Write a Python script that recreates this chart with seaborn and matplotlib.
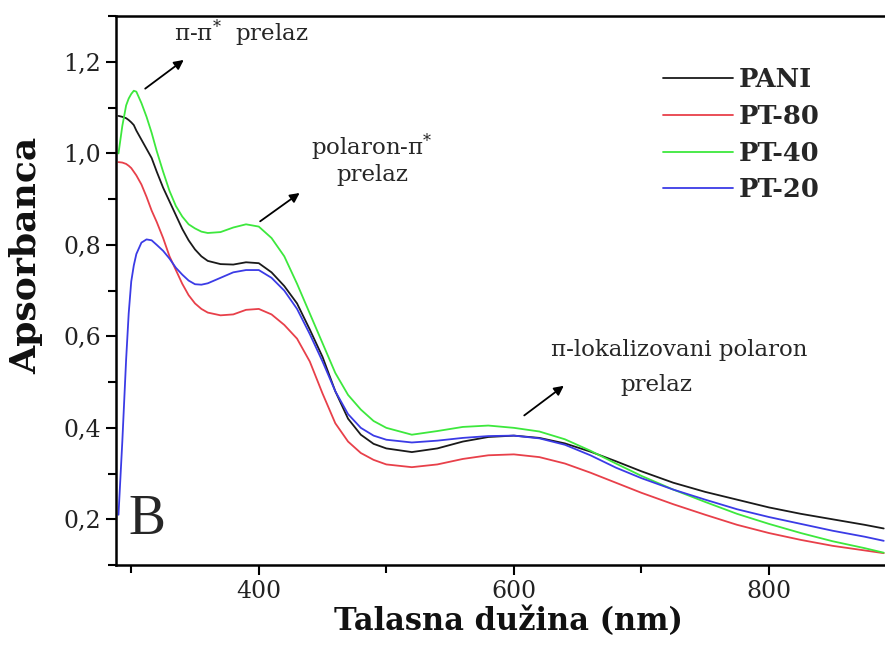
import numpy as np
import pandas as pd
import matplotlib
matplotlib.use('Agg')
import matplotlib.pyplot as plt
import seaborn as sns
from matplotlib.ticker import MultipleLocator, FuncFormatter

# wavelength grid (nm)
wavelength = [290, 293, 296, 298, 300, 302, 304, 308, 312, 316, 320, 325, 330, 335, 340,
              345, 350, 355, 360, 370, 380, 390, 400, 410, 420, 430, 440, 450, 460, 470,
              480, 490, 500, 520, 540, 560, 580, 600, 620, 640, 660, 680, 700, 725, 750,
              775, 800, 825, 850, 875, 890]

pani = [1.082, 1.080, 1.077, 1.073, 1.068, 1.062, 1.050, 1.030, 1.010, 0.990, 0.960, 0.925,
        0.895, 0.865, 0.835, 0.810, 0.790, 0.775, 0.765,
        0.758, 0.757, 0.762, 0.760, 0.740, 0.710, 0.672, 0.615, 0.555, 0.480, 0.420,
        0.385, 0.365, 0.355, 0.347, 0.355, 0.370, 0.380, 0.383, 0.378, 0.366, 0.348, 0.327,
        0.305, 0.280, 0.260, 0.243, 0.226, 0.212, 0.200, 0.188, 0.180]

pt80 = [0.981, 0.980, 0.977, 0.973, 0.968, 0.960, 0.952, 0.932, 0.905, 0.875, 0.850, 0.815,
        0.775, 0.745, 0.715, 0.690, 0.672, 0.660, 0.652,
        0.646, 0.648, 0.658, 0.660, 0.648, 0.625, 0.595, 0.545, 0.475, 0.410, 0.370,
        0.345, 0.330, 0.320, 0.314, 0.320, 0.332, 0.340, 0.342, 0.336, 0.322, 0.302, 0.280,
        0.258, 0.233, 0.210, 0.188, 0.170, 0.155, 0.142, 0.132, 0.126]

pt40 = [1.000, 1.060, 1.105, 1.120, 1.130, 1.137, 1.135, 1.110, 1.080, 1.045, 1.005, 0.960,
        0.918, 0.885, 0.862, 0.845, 0.836, 0.829, 0.826,
        0.828, 0.838, 0.845, 0.840, 0.815, 0.775, 0.715, 0.650, 0.585, 0.520, 0.472,
        0.440, 0.415, 0.400, 0.385, 0.393, 0.402, 0.405, 0.400, 0.392, 0.375, 0.350, 0.322,
        0.295, 0.265, 0.238, 0.212, 0.190, 0.170, 0.152, 0.137, 0.127]

pt20 = [0.210, 0.370, 0.550, 0.650, 0.720, 0.755, 0.780, 0.805, 0.812, 0.810, 0.800, 0.787,
        0.770, 0.750, 0.735, 0.722, 0.714, 0.713, 0.716,
        0.728, 0.740, 0.745, 0.745, 0.728, 0.700, 0.660, 0.605, 0.545, 0.480, 0.430,
        0.400, 0.383, 0.374, 0.368, 0.372, 0.378, 0.382, 0.383, 0.377, 0.363, 0.340, 0.313,
        0.290, 0.265, 0.243, 0.222, 0.205, 0.190, 0.175, 0.162, 0.153]

samples = ['PANI', 'PT-80', 'PT-40', 'PT-20']
colors = ['#1a1a1a', '#e8404a', '#3de83d', '#3b3be6']

df = pd.concat([
    pd.DataFrame({'nm': wavelength, 'A': vals, 'uzorak': name})
    for name, vals in zip(samples, [pani, pt80, pt40, pt20])
])

sns.set_style('ticks')
plt.rcParams['font.family'] = ['DejaVu Serif']
plt.rcParams['mathtext.fontset'] = 'dejavuserif'

fig = plt.figure(figsize=(8.85, 6.48), dpi=100)
ax = fig.add_axes([0.131, 0.128, 0.869, 0.847])

sns.lineplot(data=df, x='nm', y='A', hue='uzorak', palette=dict(zip(samples, colors)),
             linewidth=1.3, ax=ax, sort=False)

ax.set_xlim(288, 891)
ax.set_ylim(0.1, 1.3)
ax.xaxis.set_major_locator(MultipleLocator(200))
ax.xaxis.set_minor_locator(MultipleLocator(100))
ax.yaxis.set_major_locator(MultipleLocator(0.2))
ax.yaxis.set_minor_locator(MultipleLocator(0.1))
ax.yaxis.set_major_formatter(FuncFormatter(lambda v, p: f'{v:.1f}'.replace('.', ',')))
ax.tick_params(which='both', direction='out', width=1.5, labelsize=17, top=False, right=False,
               color='black', labelcolor='#222222')
ax.tick_params(which='major', length=7)
ax.tick_params(which='minor', length=6)
for s in ['left', 'bottom', 'top']:
    ax.spines[s].set_linewidth(1.8)
    ax.spines[s].set_color('black')
ax.spines['right'].set_visible(False)

ax.set_xlabel('Talasna dužina (nm)', fontsize=22, fontweight='bold', color='#111111')
ax.set_ylabel('Apsorbanca', fontsize=26, fontweight='bold', color='#111111')
ax.xaxis.set_label_coords(0.511, -0.075)
ax.yaxis.set_label_coords(-0.094, 0.565)

leg = ax.legend(loc='upper left', bbox_to_anchor=(0.695, 0.93), frameon=False,
                prop={'weight': 'bold', 'size': 18.5}, handlelength=2.7,
                handletextpad=0.25, labelspacing=0.45, borderpad=0)
for line in leg.get_lines():
    line.set_linewidth(1.3)

arrow = dict(arrowstyle='-|>', color='black', lw=1.3, mutation_scale=14)
ax.annotate('', xy=(342.9, 1.208), xytext=(309.2, 1.138), arrowprops=arrow)
ax.annotate('', xy=(433.8, 0.917), xytext=(399.3, 0.848), arrowprops=arrow)
ax.annotate('', xy=(640.9, 0.4956), xytext=(606.4, 0.4235), arrowprops=arrow)

ax.text(386, 1.262, r'π-π$^{*}$  prelaz', fontsize=16.5, ha='center', va='center')
ax.text(488.7, 1.014, r'polaron-π$^{*}$', fontsize=16.5, ha='center', va='center')
ax.text(488.7, 0.952, 'prelaz', fontsize=16.5, ha='center', va='center')
ax.text(729.5, 0.570, 'π-lokalizovani polaron', fontsize=16.5, ha='center', va='center')
ax.text(711.4, 0.493, 'prelaz', fontsize=16.5, ha='center', va='center')
ax.text(312, 0.198, 'B', fontsize=40, ha='center', va='center', family='Liberation Serif')

fig.savefig('out.png', dpi=100)
